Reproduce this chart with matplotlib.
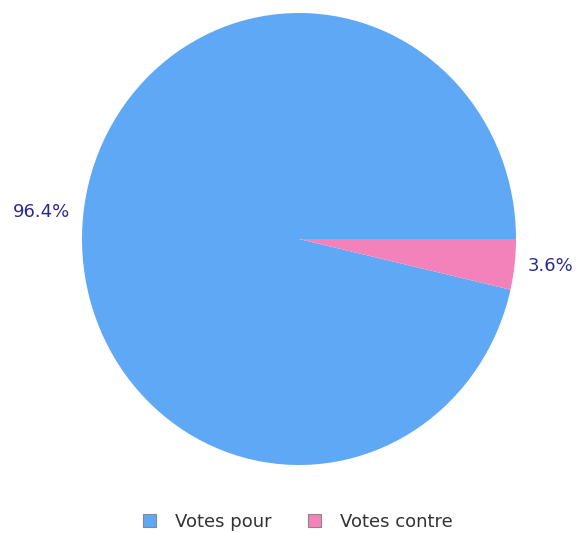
import matplotlib
matplotlib.use("Agg")
import matplotlib.pyplot as plt
from matplotlib.patches import Patch

# data
categories = ["Votes pour", "Votes contre"]
values = [96.4, 3.6]
colors = ["#5fa8f5", "#f282b9"]
label_color = "#2b2b8f"

fig = plt.figure(figsize=(5.78, 5.33), dpi=100)
ax = fig.add_axes([82/578, (533-465)/533, 434/578, 452/533])

labels = ["%.1f%%" % v for v in values]
wedges, texts = ax.pie(values, labels=labels, colors=colors, startangle=0,
                       counterclock=True, labeldistance=1.06,
                       textprops=dict(color=label_color, fontsize=13))
ax.set_aspect("auto")
ax.set_xlim(-1, 1)
ax.set_ylim(-1, 1)
ax.axis("off")

handles = [Patch(facecolor=c, edgecolor="#888888", linewidth=0.8) for c in colors]
fig.legend(handles, categories, loc="center", bbox_to_anchor=(298/578, 1-522/533),
           ncol=2, frameon=False, fontsize=13, handlelength=0.72, handleheight=0.72,
           handletextpad=1.05, columnspacing=2.0, labelcolor="#333333")

fig.savefig("out.png", dpi=100)
